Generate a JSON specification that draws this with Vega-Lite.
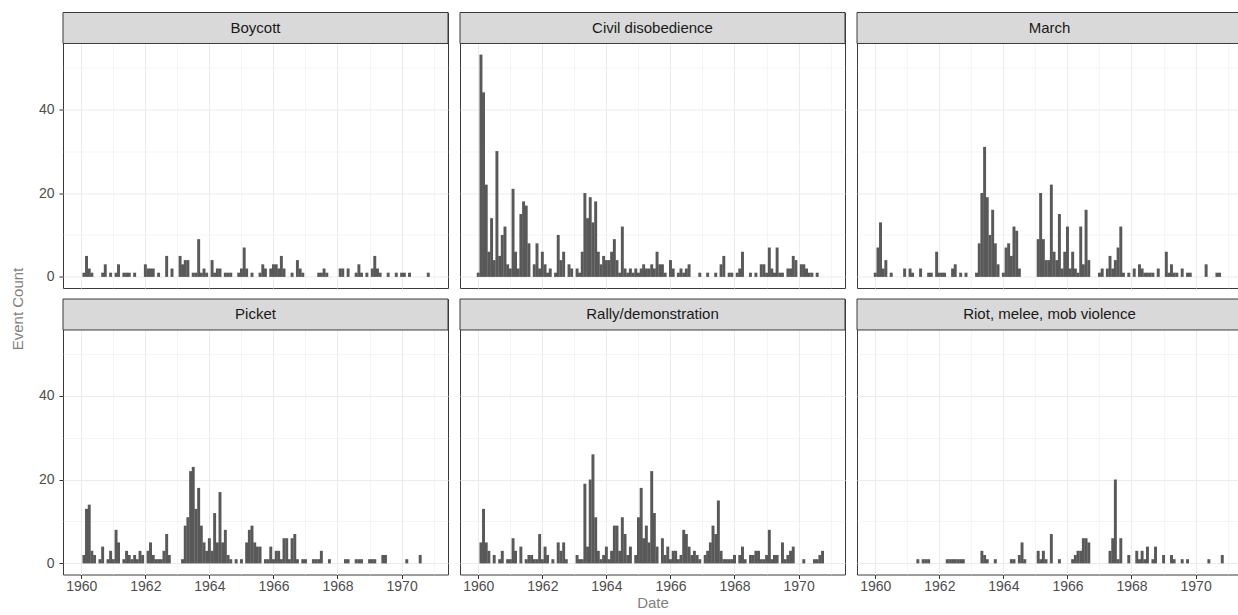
{
  "$schema": "https://vega.github.io/schema/vega-lite/v6.json",
  "background": "white",
  "padding": {"left": 0, "top": 11.5, "right": 0, "bottom": 0},
  "config": {"font": "Liberation Sans", "view": {"stroke": null}},
  "datasets": {
    "events": [
      {"panel":"Boycott","month":"1960-02","count":1},{"panel":"Boycott","month":"1960-03","count":5},{"panel":"Boycott","month":"1960-04","count":2},{"panel":"Boycott","month":"1960-05","count":1},{"panel":"Boycott","month":"1960-09","count":1},{"panel":"Boycott","month":"1960-10","count":3},{"panel":"Boycott","month":"1960-12","count":1},{"panel":"Boycott","month":"1961-02","count":1},{"panel":"Boycott","month":"1961-03","count":3},{"panel":"Boycott","month":"1961-05","count":1},{"panel":"Boycott","month":"1961-06","count":1},{"panel":"Boycott","month":"1961-07","count":1},{"panel":"Boycott","month":"1961-09","count":1},{"panel":"Boycott","month":"1962-01","count":3},{"panel":"Boycott","month":"1962-02","count":2},{"panel":"Boycott","month":"1962-03","count":2},{"panel":"Boycott","month":"1962-04","count":2},{"panel":"Boycott","month":"1962-06","count":1},{"panel":"Boycott","month":"1962-09","count":5},{"panel":"Boycott","month":"1962-11","count":2},{"panel":"Boycott","month":"1963-02","count":5},{"panel":"Boycott","month":"1963-03","count":3},{"panel":"Boycott","month":"1963-04","count":4},{"panel":"Boycott","month":"1963-05","count":4},{"panel":"Boycott","month":"1963-07","count":1},{"panel":"Boycott","month":"1963-08","count":1},{"panel":"Boycott","month":"1963-09","count":9},{"panel":"Boycott","month":"1963-10","count":1},{"panel":"Boycott","month":"1963-11","count":2},{"panel":"Boycott","month":"1963-12","count":1},{"panel":"Boycott","month":"1964-02","count":4},{"panel":"Boycott","month":"1964-03","count":1},{"panel":"Boycott","month":"1964-04","count":2},{"panel":"Boycott","month":"1964-05","count":2},{"panel":"Boycott","month":"1964-07","count":1},{"panel":"Boycott","month":"1964-08","count":1},{"panel":"Boycott","month":"1964-09","count":1},{"panel":"Boycott","month":"1964-12","count":1},{"panel":"Boycott","month":"1965-01","count":2},{"panel":"Boycott","month":"1965-02","count":7},{"panel":"Boycott","month":"1965-03","count":2},{"panel":"Boycott","month":"1965-05","count":1},{"panel":"Boycott","month":"1965-08","count":1},{"panel":"Boycott","month":"1965-09","count":3},{"panel":"Boycott","month":"1965-10","count":2},{"panel":"Boycott","month":"1965-12","count":2},{"panel":"Boycott","month":"1966-01","count":3},{"panel":"Boycott","month":"1966-02","count":3},{"panel":"Boycott","month":"1966-03","count":2},{"panel":"Boycott","month":"1966-04","count":5},{"panel":"Boycott","month":"1966-05","count":2},{"panel":"Boycott","month":"1966-08","count":1},{"panel":"Boycott","month":"1966-10","count":4},{"panel":"Boycott","month":"1966-11","count":2},{"panel":"Boycott","month":"1966-12","count":1},{"panel":"Boycott","month":"1967-06","count":1},{"panel":"Boycott","month":"1967-07","count":1},{"panel":"Boycott","month":"1967-08","count":2},{"panel":"Boycott","month":"1967-09","count":1},{"panel":"Boycott","month":"1968-02","count":2},{"panel":"Boycott","month":"1968-03","count":2},{"panel":"Boycott","month":"1968-05","count":2},{"panel":"Boycott","month":"1968-08","count":1},{"panel":"Boycott","month":"1968-09","count":3},{"panel":"Boycott","month":"1968-10","count":1},{"panel":"Boycott","month":"1968-12","count":1},{"panel":"Boycott","month":"1969-02","count":2},{"panel":"Boycott","month":"1969-03","count":5},{"panel":"Boycott","month":"1969-04","count":2},{"panel":"Boycott","month":"1969-05","count":1},{"panel":"Boycott","month":"1969-08","count":1},{"panel":"Boycott","month":"1969-11","count":1},{"panel":"Boycott","month":"1970-01","count":1},{"panel":"Boycott","month":"1970-02","count":1},{"panel":"Boycott","month":"1970-04","count":1},{"panel":"Boycott","month":"1970-11","count":1},

      {"panel":"Civil disobedience","month":"1960-01","count":1},{"panel":"Civil disobedience","month":"1960-02","count":53},{"panel":"Civil disobedience","month":"1960-03","count":44},{"panel":"Civil disobedience","month":"1960-04","count":22},{"panel":"Civil disobedience","month":"1960-05","count":6},{"panel":"Civil disobedience","month":"1960-06","count":14},{"panel":"Civil disobedience","month":"1960-07","count":4},{"panel":"Civil disobedience","month":"1960-08","count":30},{"panel":"Civil disobedience","month":"1960-09","count":5},{"panel":"Civil disobedience","month":"1960-10","count":10},{"panel":"Civil disobedience","month":"1960-11","count":12},{"panel":"Civil disobedience","month":"1960-12","count":3},{"panel":"Civil disobedience","month":"1961-01","count":2},{"panel":"Civil disobedience","month":"1961-02","count":21},{"panel":"Civil disobedience","month":"1961-03","count":6},{"panel":"Civil disobedience","month":"1961-04","count":2},{"panel":"Civil disobedience","month":"1961-05","count":15},{"panel":"Civil disobedience","month":"1961-06","count":18},{"panel":"Civil disobedience","month":"1961-07","count":17},{"panel":"Civil disobedience","month":"1961-08","count":8},{"panel":"Civil disobedience","month":"1961-10","count":3},{"panel":"Civil disobedience","month":"1961-11","count":8},{"panel":"Civil disobedience","month":"1961-12","count":2},{"panel":"Civil disobedience","month":"1962-01","count":6},{"panel":"Civil disobedience","month":"1962-02","count":3},{"panel":"Civil disobedience","month":"1962-03","count":1},{"panel":"Civil disobedience","month":"1962-04","count":2},{"panel":"Civil disobedience","month":"1962-06","count":1},{"panel":"Civil disobedience","month":"1962-07","count":10},{"panel":"Civil disobedience","month":"1962-08","count":4},{"panel":"Civil disobedience","month":"1962-09","count":6},{"panel":"Civil disobedience","month":"1962-11","count":3},{"panel":"Civil disobedience","month":"1962-12","count":2},{"panel":"Civil disobedience","month":"1963-02","count":2},{"panel":"Civil disobedience","month":"1963-03","count":1},{"panel":"Civil disobedience","month":"1963-04","count":6},{"panel":"Civil disobedience","month":"1963-05","count":20},{"panel":"Civil disobedience","month":"1963-06","count":14},{"panel":"Civil disobedience","month":"1963-07","count":19},{"panel":"Civil disobedience","month":"1963-08","count":13},{"panel":"Civil disobedience","month":"1963-09","count":18},{"panel":"Civil disobedience","month":"1963-10","count":6},{"panel":"Civil disobedience","month":"1963-11","count":3},{"panel":"Civil disobedience","month":"1963-12","count":5},{"panel":"Civil disobedience","month":"1964-01","count":4},{"panel":"Civil disobedience","month":"1964-02","count":4},{"panel":"Civil disobedience","month":"1964-03","count":6},{"panel":"Civil disobedience","month":"1964-04","count":9},{"panel":"Civil disobedience","month":"1964-05","count":4},{"panel":"Civil disobedience","month":"1964-06","count":1},{"panel":"Civil disobedience","month":"1964-07","count":12},{"panel":"Civil disobedience","month":"1964-08","count":2},{"panel":"Civil disobedience","month":"1964-09","count":1},{"panel":"Civil disobedience","month":"1964-10","count":2},{"panel":"Civil disobedience","month":"1964-11","count":1},{"panel":"Civil disobedience","month":"1964-12","count":2},{"panel":"Civil disobedience","month":"1965-01","count":1},{"panel":"Civil disobedience","month":"1965-02","count":2},{"panel":"Civil disobedience","month":"1965-03","count":3},{"panel":"Civil disobedience","month":"1965-04","count":2},{"panel":"Civil disobedience","month":"1965-05","count":2},{"panel":"Civil disobedience","month":"1965-06","count":3},{"panel":"Civil disobedience","month":"1965-07","count":2},{"panel":"Civil disobedience","month":"1965-08","count":6},{"panel":"Civil disobedience","month":"1965-09","count":3},{"panel":"Civil disobedience","month":"1965-10","count":3},{"panel":"Civil disobedience","month":"1965-11","count":1},{"panel":"Civil disobedience","month":"1966-01","count":4},{"panel":"Civil disobedience","month":"1966-02","count":2},{"panel":"Civil disobedience","month":"1966-04","count":1},{"panel":"Civil disobedience","month":"1966-05","count":2},{"panel":"Civil disobedience","month":"1966-06","count":1},{"panel":"Civil disobedience","month":"1966-07","count":2},{"panel":"Civil disobedience","month":"1966-08","count":3},{"panel":"Civil disobedience","month":"1966-12","count":1},{"panel":"Civil disobedience","month":"1967-03","count":1},{"panel":"Civil disobedience","month":"1967-06","count":1},{"panel":"Civil disobedience","month":"1967-08","count":3},{"panel":"Civil disobedience","month":"1967-09","count":5},{"panel":"Civil disobedience","month":"1967-11","count":1},{"panel":"Civil disobedience","month":"1967-12","count":1},{"panel":"Civil disobedience","month":"1968-02","count":1},{"panel":"Civil disobedience","month":"1968-03","count":2},{"panel":"Civil disobedience","month":"1968-04","count":6},{"panel":"Civil disobedience","month":"1968-07","count":1},{"panel":"Civil disobedience","month":"1968-09","count":1},{"panel":"Civil disobedience","month":"1968-11","count":3},{"panel":"Civil disobedience","month":"1968-12","count":3},{"panel":"Civil disobedience","month":"1969-01","count":1},{"panel":"Civil disobedience","month":"1969-02","count":7},{"panel":"Civil disobedience","month":"1969-03","count":2},{"panel":"Civil disobedience","month":"1969-04","count":1},{"panel":"Civil disobedience","month":"1969-05","count":7},{"panel":"Civil disobedience","month":"1969-06","count":1},{"panel":"Civil disobedience","month":"1969-07","count":1},{"panel":"Civil disobedience","month":"1969-09","count":2},{"panel":"Civil disobedience","month":"1969-10","count":2},{"panel":"Civil disobedience","month":"1969-11","count":5},{"panel":"Civil disobedience","month":"1969-12","count":4},{"panel":"Civil disobedience","month":"1970-02","count":3},{"panel":"Civil disobedience","month":"1970-03","count":3},{"panel":"Civil disobedience","month":"1970-04","count":2},{"panel":"Civil disobedience","month":"1970-05","count":1},{"panel":"Civil disobedience","month":"1970-06","count":1},{"panel":"Civil disobedience","month":"1970-08","count":1},

      {"panel":"March","month":"1960-01","count":1},{"panel":"March","month":"1960-02","count":7},{"panel":"March","month":"1960-03","count":13},{"panel":"March","month":"1960-04","count":2},{"panel":"March","month":"1960-05","count":4},{"panel":"March","month":"1960-07","count":1},{"panel":"March","month":"1960-12","count":2},{"panel":"March","month":"1961-02","count":2},{"panel":"March","month":"1961-03","count":1},{"panel":"March","month":"1961-06","count":2},{"panel":"March","month":"1961-09","count":1},{"panel":"March","month":"1961-10","count":1},{"panel":"March","month":"1961-12","count":6},{"panel":"March","month":"1962-01","count":1},{"panel":"March","month":"1962-02","count":1},{"panel":"March","month":"1962-03","count":1},{"panel":"March","month":"1962-06","count":2},{"panel":"March","month":"1962-07","count":3},{"panel":"March","month":"1962-09","count":1},{"panel":"March","month":"1962-11","count":1},{"panel":"March","month":"1963-03","count":1},{"panel":"March","month":"1963-04","count":8},{"panel":"March","month":"1963-05","count":20},{"panel":"March","month":"1963-06","count":31},{"panel":"March","month":"1963-07","count":19},{"panel":"March","month":"1963-08","count":10},{"panel":"March","month":"1963-09","count":16},{"panel":"March","month":"1963-10","count":8},{"panel":"March","month":"1963-11","count":3},{"panel":"March","month":"1964-01","count":1},{"panel":"March","month":"1964-02","count":7},{"panel":"March","month":"1964-03","count":8},{"panel":"March","month":"1964-04","count":5},{"panel":"March","month":"1964-05","count":12},{"panel":"March","month":"1964-06","count":11},{"panel":"March","month":"1964-07","count":2},{"panel":"March","month":"1965-02","count":9},{"panel":"March","month":"1965-03","count":20},{"panel":"March","month":"1965-04","count":9},{"panel":"March","month":"1965-05","count":4},{"panel":"March","month":"1965-06","count":4},{"panel":"March","month":"1965-07","count":22},{"panel":"March","month":"1965-08","count":6},{"panel":"March","month":"1965-09","count":4},{"panel":"March","month":"1965-10","count":15},{"panel":"March","month":"1965-11","count":2},{"panel":"March","month":"1965-12","count":6},{"panel":"March","month":"1966-01","count":12},{"panel":"March","month":"1966-02","count":2},{"panel":"March","month":"1966-03","count":6},{"panel":"March","month":"1966-04","count":2},{"panel":"March","month":"1966-05","count":1},{"panel":"March","month":"1966-06","count":12},{"panel":"March","month":"1966-07","count":3},{"panel":"March","month":"1966-08","count":16},{"panel":"March","month":"1966-09","count":4},{"panel":"March","month":"1967-01","count":1},{"panel":"March","month":"1967-02","count":2},{"panel":"March","month":"1967-04","count":2},{"panel":"March","month":"1967-05","count":5},{"panel":"March","month":"1967-06","count":2},{"panel":"March","month":"1967-07","count":4},{"panel":"March","month":"1967-08","count":7},{"panel":"March","month":"1967-09","count":12},{"panel":"March","month":"1967-10","count":1},{"panel":"March","month":"1967-12","count":1},{"panel":"March","month":"1968-02","count":2},{"panel":"March","month":"1968-04","count":3},{"panel":"March","month":"1968-05","count":2},{"panel":"March","month":"1968-06","count":1},{"panel":"March","month":"1968-07","count":1},{"panel":"March","month":"1968-08","count":1},{"panel":"March","month":"1968-09","count":1},{"panel":"March","month":"1968-11","count":2},{"panel":"March","month":"1969-02","count":6},{"panel":"March","month":"1969-03","count":1},{"panel":"March","month":"1969-04","count":3},{"panel":"March","month":"1969-05","count":1},{"panel":"March","month":"1969-06","count":1},{"panel":"March","month":"1969-08","count":2},{"panel":"March","month":"1969-10","count":1},{"panel":"March","month":"1969-11","count":1},{"panel":"March","month":"1970-05","count":3},{"panel":"March","month":"1970-09","count":1},{"panel":"March","month":"1970-10","count":1},

      {"panel":"Picket","month":"1960-02","count":2},{"panel":"Picket","month":"1960-03","count":13},{"panel":"Picket","month":"1960-04","count":14},{"panel":"Picket","month":"1960-05","count":3},{"panel":"Picket","month":"1960-06","count":2},{"panel":"Picket","month":"1960-08","count":1},{"panel":"Picket","month":"1960-09","count":4},{"panel":"Picket","month":"1960-11","count":1},{"panel":"Picket","month":"1960-12","count":3},{"panel":"Picket","month":"1961-01","count":1},{"panel":"Picket","month":"1961-02","count":8},{"panel":"Picket","month":"1961-03","count":5},{"panel":"Picket","month":"1961-05","count":1},{"panel":"Picket","month":"1961-06","count":3},{"panel":"Picket","month":"1961-07","count":2},{"panel":"Picket","month":"1961-08","count":1},{"panel":"Picket","month":"1961-09","count":2},{"panel":"Picket","month":"1961-10","count":1},{"panel":"Picket","month":"1961-11","count":3},{"panel":"Picket","month":"1961-12","count":2},{"panel":"Picket","month":"1962-02","count":3},{"panel":"Picket","month":"1962-03","count":5},{"panel":"Picket","month":"1962-04","count":2},{"panel":"Picket","month":"1962-05","count":1},{"panel":"Picket","month":"1962-06","count":1},{"panel":"Picket","month":"1962-07","count":1},{"panel":"Picket","month":"1962-08","count":3},{"panel":"Picket","month":"1962-09","count":7},{"panel":"Picket","month":"1962-10","count":2},{"panel":"Picket","month":"1963-03","count":1},{"panel":"Picket","month":"1963-04","count":9},{"panel":"Picket","month":"1963-05","count":11},{"panel":"Picket","month":"1963-06","count":22},{"panel":"Picket","month":"1963-07","count":23},{"panel":"Picket","month":"1963-08","count":13},{"panel":"Picket","month":"1963-09","count":18},{"panel":"Picket","month":"1963-10","count":9},{"panel":"Picket","month":"1963-11","count":5},{"panel":"Picket","month":"1963-12","count":3},{"panel":"Picket","month":"1964-01","count":6},{"panel":"Picket","month":"1964-02","count":3},{"panel":"Picket","month":"1964-03","count":12},{"panel":"Picket","month":"1964-04","count":5},{"panel":"Picket","month":"1964-05","count":17},{"panel":"Picket","month":"1964-06","count":5},{"panel":"Picket","month":"1964-07","count":8},{"panel":"Picket","month":"1964-08","count":2},{"panel":"Picket","month":"1964-09","count":1},{"panel":"Picket","month":"1964-11","count":1},{"panel":"Picket","month":"1965-01","count":1},{"panel":"Picket","month":"1965-03","count":5},{"panel":"Picket","month":"1965-04","count":8},{"panel":"Picket","month":"1965-05","count":9},{"panel":"Picket","month":"1965-06","count":5},{"panel":"Picket","month":"1965-07","count":4},{"panel":"Picket","month":"1965-08","count":4},{"panel":"Picket","month":"1965-10","count":1},{"panel":"Picket","month":"1965-11","count":1},{"panel":"Picket","month":"1965-12","count":4},{"panel":"Picket","month":"1966-01","count":1},{"panel":"Picket","month":"1966-02","count":3},{"panel":"Picket","month":"1966-03","count":3},{"panel":"Picket","month":"1966-04","count":1},{"panel":"Picket","month":"1966-05","count":6},{"panel":"Picket","month":"1966-06","count":6},{"panel":"Picket","month":"1966-07","count":1},{"panel":"Picket","month":"1966-08","count":6},{"panel":"Picket","month":"1966-09","count":7},{"panel":"Picket","month":"1966-10","count":1},{"panel":"Picket","month":"1966-12","count":1},{"panel":"Picket","month":"1967-01","count":1},{"panel":"Picket","month":"1967-04","count":1},{"panel":"Picket","month":"1967-05","count":1},{"panel":"Picket","month":"1967-06","count":1},{"panel":"Picket","month":"1967-07","count":3},{"panel":"Picket","month":"1967-10","count":1},{"panel":"Picket","month":"1968-04","count":1},{"panel":"Picket","month":"1968-05","count":1},{"panel":"Picket","month":"1968-08","count":1},{"panel":"Picket","month":"1968-09","count":1},{"panel":"Picket","month":"1968-10","count":1},{"panel":"Picket","month":"1969-01","count":1},{"panel":"Picket","month":"1969-02","count":1},{"panel":"Picket","month":"1969-03","count":1},{"panel":"Picket","month":"1969-06","count":2},{"panel":"Picket","month":"1969-07","count":2},{"panel":"Picket","month":"1970-03","count":1},{"panel":"Picket","month":"1970-08","count":2},

      {"panel":"Rally/demonstration","month":"1960-02","count":5},{"panel":"Rally/demonstration","month":"1960-03","count":13},{"panel":"Rally/demonstration","month":"1960-04","count":5},{"panel":"Rally/demonstration","month":"1960-05","count":3},{"panel":"Rally/demonstration","month":"1960-07","count":2},{"panel":"Rally/demonstration","month":"1960-09","count":1},{"panel":"Rally/demonstration","month":"1960-10","count":3},{"panel":"Rally/demonstration","month":"1960-12","count":1},{"panel":"Rally/demonstration","month":"1961-01","count":1},{"panel":"Rally/demonstration","month":"1961-02","count":6},{"panel":"Rally/demonstration","month":"1961-03","count":3},{"panel":"Rally/demonstration","month":"1961-05","count":4},{"panel":"Rally/demonstration","month":"1961-07","count":1},{"panel":"Rally/demonstration","month":"1961-08","count":2},{"panel":"Rally/demonstration","month":"1961-09","count":2},{"panel":"Rally/demonstration","month":"1961-10","count":1},{"panel":"Rally/demonstration","month":"1961-11","count":1},{"panel":"Rally/demonstration","month":"1961-12","count":7},{"panel":"Rally/demonstration","month":"1962-01","count":1},{"panel":"Rally/demonstration","month":"1962-02","count":4},{"panel":"Rally/demonstration","month":"1962-03","count":2},{"panel":"Rally/demonstration","month":"1962-05","count":1},{"panel":"Rally/demonstration","month":"1962-07","count":5},{"panel":"Rally/demonstration","month":"1962-08","count":3},{"panel":"Rally/demonstration","month":"1962-09","count":5},{"panel":"Rally/demonstration","month":"1962-10","count":1},{"panel":"Rally/demonstration","month":"1963-02","count":2},{"panel":"Rally/demonstration","month":"1963-03","count":1},{"panel":"Rally/demonstration","month":"1963-04","count":1},{"panel":"Rally/demonstration","month":"1963-05","count":19},{"panel":"Rally/demonstration","month":"1963-06","count":4},{"panel":"Rally/demonstration","month":"1963-07","count":20},{"panel":"Rally/demonstration","month":"1963-08","count":26},{"panel":"Rally/demonstration","month":"1963-09","count":11},{"panel":"Rally/demonstration","month":"1963-10","count":3},{"panel":"Rally/demonstration","month":"1963-11","count":1},{"panel":"Rally/demonstration","month":"1963-12","count":2},{"panel":"Rally/demonstration","month":"1964-01","count":4},{"panel":"Rally/demonstration","month":"1964-02","count":1},{"panel":"Rally/demonstration","month":"1964-03","count":3},{"panel":"Rally/demonstration","month":"1964-04","count":9},{"panel":"Rally/demonstration","month":"1964-05","count":9},{"panel":"Rally/demonstration","month":"1964-06","count":3},{"panel":"Rally/demonstration","month":"1964-07","count":11},{"panel":"Rally/demonstration","month":"1964-08","count":7},{"panel":"Rally/demonstration","month":"1964-09","count":2},{"panel":"Rally/demonstration","month":"1964-10","count":4},{"panel":"Rally/demonstration","month":"1964-12","count":2},{"panel":"Rally/demonstration","month":"1965-01","count":11},{"panel":"Rally/demonstration","month":"1965-02","count":18},{"panel":"Rally/demonstration","month":"1965-03","count":6},{"panel":"Rally/demonstration","month":"1965-04","count":9},{"panel":"Rally/demonstration","month":"1965-05","count":5},{"panel":"Rally/demonstration","month":"1965-06","count":22},{"panel":"Rally/demonstration","month":"1965-07","count":12},{"panel":"Rally/demonstration","month":"1965-08","count":4},{"panel":"Rally/demonstration","month":"1965-10","count":6},{"panel":"Rally/demonstration","month":"1965-11","count":2},{"panel":"Rally/demonstration","month":"1965-12","count":4},{"panel":"Rally/demonstration","month":"1966-01","count":1},{"panel":"Rally/demonstration","month":"1966-02","count":3},{"panel":"Rally/demonstration","month":"1966-03","count":3},{"panel":"Rally/demonstration","month":"1966-04","count":1},{"panel":"Rally/demonstration","month":"1966-05","count":2},{"panel":"Rally/demonstration","month":"1966-06","count":8},{"panel":"Rally/demonstration","month":"1966-07","count":7},{"panel":"Rally/demonstration","month":"1966-08","count":4},{"panel":"Rally/demonstration","month":"1966-09","count":2},{"panel":"Rally/demonstration","month":"1966-10","count":3},{"panel":"Rally/demonstration","month":"1966-11","count":2},{"panel":"Rally/demonstration","month":"1966-12","count":1},{"panel":"Rally/demonstration","month":"1967-02","count":2},{"panel":"Rally/demonstration","month":"1967-03","count":3},{"panel":"Rally/demonstration","month":"1967-04","count":5},{"panel":"Rally/demonstration","month":"1967-05","count":9},{"panel":"Rally/demonstration","month":"1967-06","count":7},{"panel":"Rally/demonstration","month":"1967-07","count":15},{"panel":"Rally/demonstration","month":"1967-08","count":3},{"panel":"Rally/demonstration","month":"1967-09","count":1},{"panel":"Rally/demonstration","month":"1967-10","count":1},{"panel":"Rally/demonstration","month":"1967-11","count":1},{"panel":"Rally/demonstration","month":"1967-12","count":1},{"panel":"Rally/demonstration","month":"1968-01","count":2},{"panel":"Rally/demonstration","month":"1968-03","count":2},{"panel":"Rally/demonstration","month":"1968-04","count":4},{"panel":"Rally/demonstration","month":"1968-05","count":1},{"panel":"Rally/demonstration","month":"1968-07","count":2},{"panel":"Rally/demonstration","month":"1968-08","count":2},{"panel":"Rally/demonstration","month":"1968-09","count":3},{"panel":"Rally/demonstration","month":"1968-10","count":3},{"panel":"Rally/demonstration","month":"1968-11","count":1},{"panel":"Rally/demonstration","month":"1968-12","count":1},{"panel":"Rally/demonstration","month":"1969-01","count":2},{"panel":"Rally/demonstration","month":"1969-02","count":8},{"panel":"Rally/demonstration","month":"1969-03","count":1},{"panel":"Rally/demonstration","month":"1969-04","count":2},{"panel":"Rally/demonstration","month":"1969-05","count":2},{"panel":"Rally/demonstration","month":"1969-07","count":5},{"panel":"Rally/demonstration","month":"1969-08","count":1},{"panel":"Rally/demonstration","month":"1969-09","count":2},{"panel":"Rally/demonstration","month":"1969-10","count":3},{"panel":"Rally/demonstration","month":"1969-11","count":4},{"panel":"Rally/demonstration","month":"1970-03","count":1},{"panel":"Rally/demonstration","month":"1970-07","count":1},{"panel":"Rally/demonstration","month":"1970-08","count":1},{"panel":"Rally/demonstration","month":"1970-09","count":2},{"panel":"Rally/demonstration","month":"1970-10","count":3},

      {"panel":"Riot, melee, mob violence","month":"1961-05","count":1},{"panel":"Riot, melee, mob violence","month":"1961-07","count":1},{"panel":"Riot, melee, mob violence","month":"1961-08","count":1},{"panel":"Riot, melee, mob violence","month":"1961-09","count":1},{"panel":"Riot, melee, mob violence","month":"1962-04","count":1},{"panel":"Riot, melee, mob violence","month":"1962-05","count":1},{"panel":"Riot, melee, mob violence","month":"1962-06","count":1},{"panel":"Riot, melee, mob violence","month":"1962-07","count":1},{"panel":"Riot, melee, mob violence","month":"1962-08","count":1},{"panel":"Riot, melee, mob violence","month":"1962-09","count":1},{"panel":"Riot, melee, mob violence","month":"1962-10","count":1},{"panel":"Riot, melee, mob violence","month":"1963-05","count":3},{"panel":"Riot, melee, mob violence","month":"1963-06","count":2},{"panel":"Riot, melee, mob violence","month":"1963-07","count":1},{"panel":"Riot, melee, mob violence","month":"1963-10","count":1},{"panel":"Riot, melee, mob violence","month":"1964-04","count":1},{"panel":"Riot, melee, mob violence","month":"1964-05","count":1},{"panel":"Riot, melee, mob violence","month":"1964-07","count":2},{"panel":"Riot, melee, mob violence","month":"1964-08","count":5},{"panel":"Riot, melee, mob violence","month":"1964-09","count":1},{"panel":"Riot, melee, mob violence","month":"1965-02","count":3},{"panel":"Riot, melee, mob violence","month":"1965-03","count":1},{"panel":"Riot, melee, mob violence","month":"1965-04","count":3},{"panel":"Riot, melee, mob violence","month":"1965-05","count":1},{"panel":"Riot, melee, mob violence","month":"1965-07","count":7},{"panel":"Riot, melee, mob violence","month":"1965-10","count":1},{"panel":"Riot, melee, mob violence","month":"1966-03","count":1},{"panel":"Riot, melee, mob violence","month":"1966-04","count":2},{"panel":"Riot, melee, mob violence","month":"1966-05","count":3},{"panel":"Riot, melee, mob violence","month":"1966-06","count":3},{"panel":"Riot, melee, mob violence","month":"1966-07","count":6},{"panel":"Riot, melee, mob violence","month":"1966-08","count":6},{"panel":"Riot, melee, mob violence","month":"1966-09","count":5},{"panel":"Riot, melee, mob violence","month":"1967-05","count":3},{"panel":"Riot, melee, mob violence","month":"1967-06","count":6},{"panel":"Riot, melee, mob violence","month":"1967-07","count":20},{"panel":"Riot, melee, mob violence","month":"1967-08","count":1},{"panel":"Riot, melee, mob violence","month":"1967-09","count":6},{"panel":"Riot, melee, mob violence","month":"1967-12","count":2},{"panel":"Riot, melee, mob violence","month":"1968-03","count":3},{"panel":"Riot, melee, mob violence","month":"1968-04","count":1},{"panel":"Riot, melee, mob violence","month":"1968-05","count":3},{"panel":"Riot, melee, mob violence","month":"1968-06","count":1},{"panel":"Riot, melee, mob violence","month":"1968-07","count":4},{"panel":"Riot, melee, mob violence","month":"1968-09","count":1},{"panel":"Riot, melee, mob violence","month":"1968-10","count":4},{"panel":"Riot, melee, mob violence","month":"1969-01","count":2},{"panel":"Riot, melee, mob violence","month":"1969-04","count":2},{"panel":"Riot, melee, mob violence","month":"1969-05","count":1},{"panel":"Riot, melee, mob violence","month":"1969-08","count":1},{"panel":"Riot, melee, mob violence","month":"1969-10","count":1},{"panel":"Riot, melee, mob violence","month":"1970-06","count":1},{"panel":"Riot, melee, mob violence","month":"1970-11","count":2}
    ]
  },
  "spacing": 1,
  "hconcat": [
    {
      "width": 36, "height": 593,
      "view": {"fill": "white", "stroke": null},
      "data": {"values": [{"label": "Event Count"}]},
      "mark": {"type": "text", "angle": 270, "fontSize": 15, "color": "#7F7F7F"},
      "encoding": {"text": {"field": "label"}}
    },
    {
      "spacing": 9.5,
      "vconcat": [
        {
          "spacing": 10,
          "hconcat": [
            {"width": 385, "height": 275.5, "view": {"fill": "white", "stroke": "#3A3A3A"},
             "layer": [
              {"data": {"name": "events"}, "transform": [{"filter": "datum.panel == 'Boycott'"}],
               "mark": {"type": "bar", "orient": "vertical", "color": "#595959", "size": 2.95},
               "encoding": {
                 "x": {"field": "month", "type": "temporal", "scale": {"domain": [-333590400000, 45705600000], "padding": 0, "nice": false},
                   "axis": {"values": [{"year":1960},{"year":1961},{"year":1962},{"year":1963},{"year":1964},{"year":1965},{"year":1966},{"year":1967},{"year":1968},{"year":1969},{"year":1970},{"year":1971}], "grid": true, "labels": false, "ticks": false, "domain": false, "title": null, "gridColor": "#EBEBEB", "gridWidth": {"condition": {"test": "year(datum.value) % 2 == 1", "value": 0.5}, "value": 1}}},
                 "y": {"field": "count", "type": "quantitative", "scale": {"domain": [-2.65, 63.04], "nice": false, "zero": false},
                   "axis": {"values": [0,10,20,30,40,50], "grid": true, "domain": false, "title": null, "gridColor": "#EBEBEB", "gridWidth": {"condition": {"test": "datum.value % 20 != 0", "value": 0.5}, "value": 1}, "labelExpr": "datum.value % 20 == 0 ? datum.label : ''", "tickOpacity": {"condition": {"test": "datum.value % 20 != 0", "value": 0}, "value": 1}, "labelFontSize": 14, "labelColor": "#4D4D4D", "tickColor": "#333333", "tickSize": 4, "labelPadding": 5, "labelOverlap": false, "labelFlush": false}},
                 "y2": {"datum": 0}
               }},
              {"data": {"values": [{"panel": "Boycott"}]}, "mark": {"type": "rect", "fill": "#D9D9D9", "stroke": "#3A3A3A", "strokeWidth": 1}, "encoding": {"y": {"datum": 55.65}, "y2": {"datum": 63.04}}},
              {"data": {"values": [{"panel": "Boycott"}]}, "mark": {"type": "text", "fontSize": 15, "color": "#1A1A1A"}, "encoding": {"y": {"datum": 59.35}, "text": {"field": "panel"}}}
             ]},
            {"width": 385, "height": 275.5, "view": {"fill": "white", "stroke": "#3A3A3A"},
             "layer": [
              {"data": {"name": "events"}, "transform": [{"filter": "datum.panel == 'Civil disobedience'"}],
               "mark": {"type": "bar", "orient": "vertical", "color": "#595959", "size": 2.95},
               "encoding": {
                 "x": {"field": "month", "type": "temporal", "scale": {"domain": [-333590400000, 45705600000], "padding": 0, "nice": false},
                   "axis": {"values": [{"year":1960},{"year":1961},{"year":1962},{"year":1963},{"year":1964},{"year":1965},{"year":1966},{"year":1967},{"year":1968},{"year":1969},{"year":1970},{"year":1971}], "grid": true, "labels": false, "ticks": false, "domain": false, "title": null, "gridColor": "#EBEBEB", "gridWidth": {"condition": {"test": "year(datum.value) % 2 == 1", "value": 0.5}, "value": 1}}},
                 "y": {"field": "count", "type": "quantitative", "scale": {"domain": [-2.65, 63.04], "nice": false, "zero": false},
                   "axis": {"values": [0,10,20,30,40,50], "grid": true, "labels": false, "ticks": false, "domain": false, "title": null, "gridColor": "#EBEBEB", "gridWidth": {"condition": {"test": "datum.value % 20 != 0", "value": 0.5}, "value": 1}}},
                 "y2": {"datum": 0}
               }},
              {"data": {"values": [{"panel": "Civil disobedience"}]}, "mark": {"type": "rect", "fill": "#D9D9D9", "stroke": "#3A3A3A", "strokeWidth": 1}, "encoding": {"y": {"datum": 55.65}, "y2": {"datum": 63.04}}},
              {"data": {"values": [{"panel": "Civil disobedience"}]}, "mark": {"type": "text", "fontSize": 15, "color": "#1A1A1A"}, "encoding": {"y": {"datum": 59.35}, "text": {"field": "panel"}}}
             ]},
            {"width": 385, "height": 275.5, "view": {"fill": "white", "stroke": "#3A3A3A"},
             "layer": [
              {"data": {"name": "events"}, "transform": [{"filter": "datum.panel == 'March'"}],
               "mark": {"type": "bar", "orient": "vertical", "color": "#595959", "size": 2.95},
               "encoding": {
                 "x": {"field": "month", "type": "temporal", "scale": {"domain": [-333590400000, 45705600000], "padding": 0, "nice": false},
                   "axis": {"values": [{"year":1960},{"year":1961},{"year":1962},{"year":1963},{"year":1964},{"year":1965},{"year":1966},{"year":1967},{"year":1968},{"year":1969},{"year":1970},{"year":1971}], "grid": true, "labels": false, "ticks": false, "domain": false, "title": null, "gridColor": "#EBEBEB", "gridWidth": {"condition": {"test": "year(datum.value) % 2 == 1", "value": 0.5}, "value": 1}}},
                 "y": {"field": "count", "type": "quantitative", "scale": {"domain": [-2.65, 63.04], "nice": false, "zero": false},
                   "axis": {"values": [0,10,20,30,40,50], "grid": true, "labels": false, "ticks": false, "domain": false, "title": null, "gridColor": "#EBEBEB", "gridWidth": {"condition": {"test": "datum.value % 20 != 0", "value": 0.5}, "value": 1}}},
                 "y2": {"datum": 0}
               }},
              {"data": {"values": [{"panel": "March"}]}, "mark": {"type": "rect", "fill": "#D9D9D9", "stroke": "#3A3A3A", "strokeWidth": 1}, "encoding": {"y": {"datum": 55.65}, "y2": {"datum": 63.04}}},
              {"data": {"values": [{"panel": "March"}]}, "mark": {"type": "text", "fontSize": 15, "color": "#1A1A1A"}, "encoding": {"y": {"datum": 59.35}, "text": {"field": "panel"}}}
             ]}
          ]
        },
        {
          "spacing": 10,
          "hconcat": [
            {"width": 385, "height": 275.5, "view": {"fill": "white", "stroke": "#3A3A3A"},
             "layer": [
              {"data": {"name": "events"}, "transform": [{"filter": "datum.panel == 'Picket'"}],
               "mark": {"type": "bar", "orient": "vertical", "color": "#595959", "size": 2.95},
               "encoding": {
                 "x": {"field": "month", "type": "temporal", "scale": {"domain": [-333590400000, 45705600000], "padding": 0, "nice": false},
                   "axis": {"values": [{"year":1960},{"year":1961},{"year":1962},{"year":1963},{"year":1964},{"year":1965},{"year":1966},{"year":1967},{"year":1968},{"year":1969},{"year":1970},{"year":1971}], "grid": true, "domain": false, "title": null, "gridColor": "#EBEBEB", "gridWidth": {"condition": {"test": "year(datum.value) % 2 == 1", "value": 0.5}, "value": 1}, "format": "%Y", "labelExpr": "year(datum.value) % 2 == 0 ? datum.label : ''", "tickOpacity": {"condition": {"test": "year(datum.value) % 2 == 1", "value": 0}, "value": 1}, "labelFontSize": 14, "labelColor": "#4D4D4D", "tickColor": "#333333", "tickSize": 4, "labelPadding": 1, "labelOverlap": false, "labelFlush": false}},
                 "y": {"field": "count", "type": "quantitative", "scale": {"domain": [-2.65, 63.04], "nice": false, "zero": false},
                   "axis": {"values": [0,10,20,30,40,50], "grid": true, "domain": false, "title": null, "gridColor": "#EBEBEB", "gridWidth": {"condition": {"test": "datum.value % 20 != 0", "value": 0.5}, "value": 1}, "labelExpr": "datum.value % 20 == 0 ? datum.label : ''", "tickOpacity": {"condition": {"test": "datum.value % 20 != 0", "value": 0}, "value": 1}, "labelFontSize": 14, "labelColor": "#4D4D4D", "tickColor": "#333333", "tickSize": 4, "labelPadding": 5, "labelOverlap": false, "labelFlush": false}},
                 "y2": {"datum": 0}
               }},
              {"data": {"values": [{"panel": "Picket"}]}, "mark": {"type": "rect", "fill": "#D9D9D9", "stroke": "#3A3A3A", "strokeWidth": 1}, "encoding": {"y": {"datum": 55.65}, "y2": {"datum": 63.04}}},
              {"data": {"values": [{"panel": "Picket"}]}, "mark": {"type": "text", "fontSize": 15, "color": "#1A1A1A"}, "encoding": {"y": {"datum": 59.35}, "text": {"field": "panel"}}}
             ]},
            {"width": 385, "height": 275.5, "view": {"fill": "white", "stroke": "#3A3A3A"},
             "layer": [
              {"data": {"name": "events"}, "transform": [{"filter": "datum.panel == 'Rally/demonstration'"}],
               "mark": {"type": "bar", "orient": "vertical", "color": "#595959", "size": 2.95},
               "encoding": {
                 "x": {"field": "month", "type": "temporal", "scale": {"domain": [-333590400000, 45705600000], "padding": 0, "nice": false},
                   "axis": {"values": [{"year":1960},{"year":1961},{"year":1962},{"year":1963},{"year":1964},{"year":1965},{"year":1966},{"year":1967},{"year":1968},{"year":1969},{"year":1970},{"year":1971}], "grid": true, "domain": false, "title": "Date", "titleFontSize": 15, "titleFontWeight": "normal", "titleColor": "#7F7F7F", "titlePadding": 2, "gridColor": "#EBEBEB", "gridWidth": {"condition": {"test": "year(datum.value) % 2 == 1", "value": 0.5}, "value": 1}, "format": "%Y", "labelExpr": "year(datum.value) % 2 == 0 ? datum.label : ''", "tickOpacity": {"condition": {"test": "year(datum.value) % 2 == 1", "value": 0}, "value": 1}, "labelFontSize": 14, "labelColor": "#4D4D4D", "tickColor": "#333333", "tickSize": 4, "labelPadding": 1, "labelOverlap": false, "labelFlush": false}},
                 "y": {"field": "count", "type": "quantitative", "scale": {"domain": [-2.65, 63.04], "nice": false, "zero": false},
                   "axis": {"values": [0,10,20,30,40,50], "grid": true, "labels": false, "ticks": false, "domain": false, "title": null, "gridColor": "#EBEBEB", "gridWidth": {"condition": {"test": "datum.value % 20 != 0", "value": 0.5}, "value": 1}}},
                 "y2": {"datum": 0}
               }},
              {"data": {"values": [{"panel": "Rally/demonstration"}]}, "mark": {"type": "rect", "fill": "#D9D9D9", "stroke": "#3A3A3A", "strokeWidth": 1}, "encoding": {"y": {"datum": 55.65}, "y2": {"datum": 63.04}}},
              {"data": {"values": [{"panel": "Rally/demonstration"}]}, "mark": {"type": "text", "fontSize": 15, "color": "#1A1A1A"}, "encoding": {"y": {"datum": 59.35}, "text": {"field": "panel"}}}
             ]},
            {"width": 385, "height": 275.5, "view": {"fill": "white", "stroke": "#3A3A3A"},
             "layer": [
              {"data": {"name": "events"}, "transform": [{"filter": "datum.panel == 'Riot, melee, mob violence'"}],
               "mark": {"type": "bar", "orient": "vertical", "color": "#595959", "size": 2.95},
               "encoding": {
                 "x": {"field": "month", "type": "temporal", "scale": {"domain": [-333590400000, 45705600000], "padding": 0, "nice": false},
                   "axis": {"values": [{"year":1960},{"year":1961},{"year":1962},{"year":1963},{"year":1964},{"year":1965},{"year":1966},{"year":1967},{"year":1968},{"year":1969},{"year":1970},{"year":1971}], "grid": true, "domain": false, "title": null, "gridColor": "#EBEBEB", "gridWidth": {"condition": {"test": "year(datum.value) % 2 == 1", "value": 0.5}, "value": 1}, "format": "%Y", "labelExpr": "year(datum.value) % 2 == 0 ? datum.label : ''", "tickOpacity": {"condition": {"test": "year(datum.value) % 2 == 1", "value": 0}, "value": 1}, "labelFontSize": 14, "labelColor": "#4D4D4D", "tickColor": "#333333", "tickSize": 4, "labelPadding": 1, "labelOverlap": false, "labelFlush": false}},
                 "y": {"field": "count", "type": "quantitative", "scale": {"domain": [-2.65, 63.04], "nice": false, "zero": false},
                   "axis": {"values": [0,10,20,30,40,50], "grid": true, "labels": false, "ticks": false, "domain": false, "title": null, "gridColor": "#EBEBEB", "gridWidth": {"condition": {"test": "datum.value % 20 != 0", "value": 0.5}, "value": 1}}},
                 "y2": {"datum": 0}
               }},
              {"data": {"values": [{"panel": "Riot, melee, mob violence"}]}, "mark": {"type": "rect", "fill": "#D9D9D9", "stroke": "#3A3A3A", "strokeWidth": 1}, "encoding": {"y": {"datum": 55.65}, "y2": {"datum": 63.04}}},
              {"data": {"values": [{"panel": "Riot, melee, mob violence"}]}, "mark": {"type": "text", "fontSize": 15, "color": "#1A1A1A"}, "encoding": {"y": {"datum": 59.35}, "text": {"field": "panel"}}}
             ]}
          ]
        }
      ]
    }
  ]
}
